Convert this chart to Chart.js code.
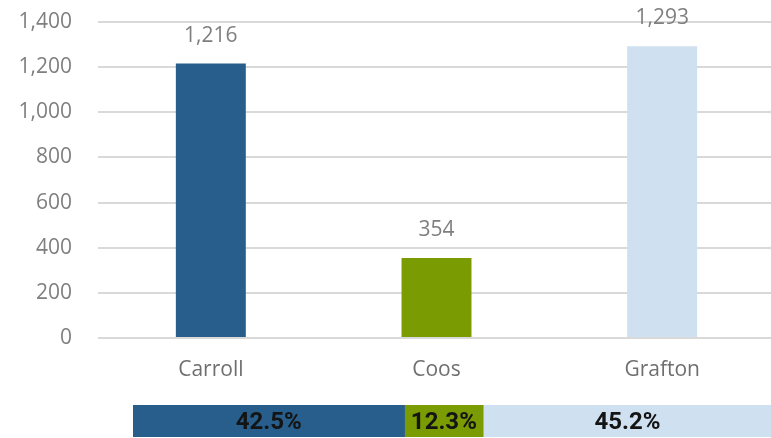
<!DOCTYPE html>
<html>
<head>
<meta charset="utf-8">
<script src="https://cdn.jsdelivr.net/npm/chart.js@4/dist/chart.umd.min.js"></script>
<style>
  html, body { margin: 0; padding: 0; background: #ffffff; }
  body { width: 771px; height: 438px; overflow: hidden; position: relative; }
  #mainWrap { position: absolute; left: 0; top: 0; }
  #stripWrap { position: absolute; left: 0; top: 405px; }
</style>
</head>
<body>
<div id="mainWrap"><canvas id="main" width="775" height="400"></canvas></div>
<div id="stripWrap"><canvas id="strip" width="780" height="32"></canvas></div>
<script>
// ---- data ----
const categories = ['Carroll', 'Coos', 'Grafton'];
const counts = [1216, 354, 1293];
const shares = [42.5, 12.3, 45.2];
const yTicks = [0, 200, 400, 600, 800, 1000, 1200, 1400];

const barColors = ['#275e8b', '#7a9b02', '#cfe0f0'];
const fontFamily = '"Open Sans", "Noto Sans", sans-serif';

const fmt = v => Number(v).toLocaleString('en-US');

const valueLabels = {
  id: 'valueLabels',
  afterDatasetsDraw(chart) {
    const ctx = chart.ctx;
    const meta = chart.getDatasetMeta(0);
    ctx.save();
    ctx.font = '21px ' + fontFamily;
    ctx.fillStyle = '#7f7f7f';
    ctx.textAlign = 'center';
    ctx.textBaseline = 'middle';
    meta.data.forEach((bar, i) => {
      ctx.fillText(fmt(chart.data.datasets[0].data[i]), bar.x, bar.y - 28);
    });
    ctx.restore();
  }
};

new Chart(document.getElementById('main'), {
  type: 'bar',
  data: {
    labels: categories,
    datasets: [{
      data: counts,
      backgroundColor: barColors,
      borderWidth: 0,
      categoryPercentage: 1,
      barPercentage: 0.31
    }]
  },
  options: {
    responsive: false,
    animation: false,
    events: [],
    layout: { padding: { top: 22, left: 0, right: 0, bottom: 0 } },
    plugins: { legend: { display: false }, tooltip: { enabled: false } },
    scales: {
      x: {
        grid: { display: false, drawTicks: false },
        border: { display: false },
        ticks: { color: '#6f6f6f', font: { family: fontFamily, size: 21 }, padding: 19 },
        afterFit(s) { s.height = 62; }
      },
      y: {
        min: 0, max: 1400,
        afterBuildTicks(s) { s.ticks = yTicks.map(v => ({ value: v })); },
        grid: { color: '#d9d9d9', lineWidth: 2, drawTicks: false },
        border: { display: false },
        ticks: {
          color: '#7f7f7f',
          font: { family: fontFamily, size: 21 },
          padding: 26,
          callback: v => fmt(v)
        },
        afterFit(s) { s.width = 98; s.paddingTop = 10; s.paddingBottom = 0; }
      }
    }
  },
  plugins: [valueLabels]
});

const shareLabels = {
  id: 'shareLabels',
  afterDatasetsDraw(chart) {
    const ctx = chart.ctx;
    ctx.save();
    ctx.font = 'bold 24px Roboto, "Liberation Sans", sans-serif';
    ctx.fillStyle = '#141414';
    ctx.textAlign = 'center';
    ctx.textBaseline = 'middle';
    chart.data.datasets.forEach((ds, i) => {
      const bar = chart.getDatasetMeta(i).data[0];
      const cx = (bar.x + bar.base) / 2;
      ctx.fillText(ds.data[0].toFixed(1) + '%', cx, bar.y + 2);
    });
    ctx.restore();
  }
};

new Chart(document.getElementById('strip'), {
  type: 'bar',
  data: {
    labels: ['share'],
    datasets: categories.map((c, i) => ({
      label: c,
      data: [shares[i]],
      backgroundColor: barColors[i],
      borderWidth: 0,
      categoryPercentage: 1,
      barPercentage: 1
    }))
  },
  options: {
    indexAxis: 'y',
    responsive: false,
    animation: false,
    events: [],
    layout: { padding: { left: 133, right: 8, top: 0, bottom: 0 } },
    plugins: { legend: { display: false }, tooltip: { enabled: false } },
    scales: {
      x: { stacked: true, min: 0, max: 100, display: false },
      y: { stacked: true, display: false }
    }
  },
  plugins: [shareLabels]
});
</script>
</body>
</html>
